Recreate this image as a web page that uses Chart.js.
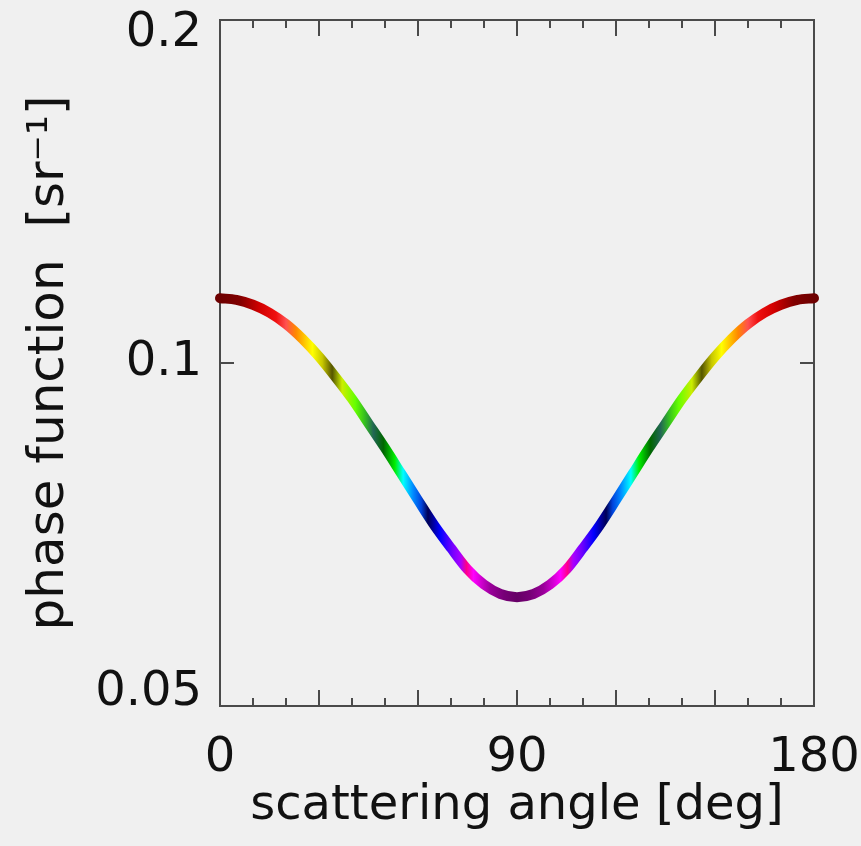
<!DOCTYPE html>
<html><head><meta charset="utf-8">
<script src="https://cdn.jsdelivr.net/npm/chart.js@4/dist/chart.umd.min.js"></script>
<style>html,body{margin:0;padding:0;background:#f0f0f0;}#wrap{width:861px;height:846px;}</style>
</head><body><div id="wrap"><canvas id="c" width="861" height="846"></canvas></div>
<script>
// Scattering angle [deg]
const angles = [0,5,10,15,20,25,30,35,40,45,50,55,60,65,70,75,80,85,90,95,100,105,110,115,120,125,130,135,140,145,150,155,160,165,170,175,180];
// Phase function [sr^-1]
const phase = [0.1140,0.1136,0.1125,0.1107,0.1082,0.1050,0.1013,0.0972,0.0930,0.0885,0.0842,0.0799,0.0758,0.0720,0.0688,0.0659,0.0639,0.0627,0.0623,
               0.0627,0.0639,0.0659,0.0688,0.0720,0.0758,0.0799,0.0842,0.0885,0.0930,0.0972,0.1013,0.1050,0.1082,0.1107,0.1125,0.1136,0.1140];
const xTickValues = [0, 90, 180];
const yTickValues = [0.05, 0.1, 0.2];
const xMinorTicks = [10,20,30,40,50,60,70,80,90,100,110,120,130,140,150,160,170];
const xMajorTicks = [30,60,90,120,150];
const yMajorTicks = [0.1];
// colour stops along the curve: angle (0..90, mirrored) -> colour
const colourAngles = [0,6,12,17,20,23,28,31,34,37,41,44,46.5,49.5,53,55.5,58.6,61,63,66.7,70.6,73,74.7,76.8,82,86,90];
const colours = ['#6e0000','#800000','#d00000','#f01010','#ff5050','#ff8800','#ffff00','#c8c800','#555500','#ccee00','#66ff00','#33bb22','#226655','#006600','#00ee00','#00ffff','#0088ff','#0044dd','#000055','#0000ff','#7700ff','#aa00ff','#ff0088','#ff00ff','#990099','#770077','#660066'];

const FONT = 'DejaVu Sans';
const AXIS_COLOR = '#4a4a4a';

function gradientFor(chart){
  const xs = chart.scales && chart.scales.x;
  if(!xs || !chart.chartArea) return '#800000';
  const x0 = xs.getPixelForValue(0), x1 = xs.getPixelForValue(180);
  if(!isFinite(x0) || !isFinite(x1) || x1 === x0) return '#800000';
  const g = chart.ctx.createLinearGradient(x0,0,x1,0);
  for(let i=0;i<colourAngles.length;i++){
    g.addColorStop(colourAngles[i]/180, colours[i]);
    g.addColorStop(1-colourAngles[i]/180, colours[i]);
  }
  return g;
}

function noPad(s){ s.paddingTop = 0; s.paddingBottom = 0; s.paddingLeft = 0; s.paddingRight = 0; }

const tickPlugin = {
  id:'inwardTicks',
  afterDatasetsDraw(chart){
    const {ctx, chartArea:ca, scales} = chart;
    const xs = scales.x, ys = scales.y;
    ctx.save();
    ctx.strokeStyle = AXIS_COLOR;
    ctx.lineWidth = 2;
    ctx.beginPath();
    xMinorTicks.forEach(v=>{
      const px = Math.round(xs.getPixelForValue(v));
      const len = xMajorTicks.includes(v) ? 16 : 8;
      ctx.moveTo(px, ca.bottom); ctx.lineTo(px, ca.bottom-len);
      ctx.moveTo(px, ca.top); ctx.lineTo(px, ca.top+len);
    });
    yMajorTicks.forEach(v=>{
      const py = Math.round(ys.getPixelForValue(v));
      ctx.moveTo(ca.left, py); ctx.lineTo(ca.left+14, py);
      ctx.moveTo(ca.right, py); ctx.lineTo(ca.right-14, py);
    });
    ctx.stroke();
    ctx.restore();
  }
};

new Chart(document.getElementById('c'), {
  type:'line',
  data:{
    datasets:[{
      data: angles.map((a,i)=>({x:a, y:phase[i]})),
      borderColor: (ctx)=>gradientFor(ctx.chart),
      borderWidth: 10,
      borderCapStyle:'round',
      borderJoinStyle:'round',
      pointRadius:0,
      cubicInterpolationMode:'monotone',
      fill:false,
      clip:false
    }]
  },
  options:{
    responsive:false,
    devicePixelRatio:1,
    animation:false,
    events:[],
    layout:{padding:0},
    plugins:{legend:{display:false}, tooltip:{enabled:false}},
    scales:{
      x:{
        type:'linear', position:'bottom', min:0, max:180,
        afterBuildTicks:(s)=>{s.ticks = xTickValues.map(v=>({value:v}));},
        afterFit:(s)=>{s.height = 140; noPad(s);},
        grid:{display:false, drawTicks:false},
        border:{display:true, color:AXIS_COLOR, width:2},
        ticks:{color:'#111', padding:24, maxRotation:0, autoSkip:false, font:{family:FONT, size:48}, callback:(v)=>String(v)},
        title:{display:true, text:'scattering angle [deg]', color:'#111', font:{family:FONT, size:48}, padding:{top:0,bottom:11}}
      },
      x2:{
        type:'linear', position:'top', min:0, max:180,
        afterFit:(s)=>{s.height = 20; noPad(s);},
        grid:{display:false, drawTicks:false},
        border:{display:true, color:AXIS_COLOR, width:2},
        ticks:{display:false}
      },
      y:{
        type:'logarithmic', position:'left', min:0.05, max:0.2,
        afterBuildTicks:(s)=>{s.ticks = yTickValues.map(v=>({value:v}));},
        afterFit:(s)=>{s.width = 220; noPad(s);},
        grid:{display:false, drawTicks:false},
        border:{display:true, color:AXIS_COLOR, width:2},
        ticks:{color:'#111', padding:18, autoSkip:false, font:{family:FONT, size:48, lineHeight:0.55},
               callback:(v)=> v >= 0.2 ? ['', String(v)] : (v <= 0.05 ? [String(v), ''] : String(v))},
        title:{display:true, text:'phase function  [sr\u207B\u00B9]', color:'#111', font:{family:FONT, size:50}, padding:{top:20,bottom:0}}
      },
      y2:{
        type:'logarithmic', position:'right', min:0.05, max:0.2,
        afterFit:(s)=>{s.width = 47; noPad(s);},
        grid:{display:false, drawTicks:false},
        border:{display:true, color:AXIS_COLOR, width:2},
        ticks:{display:false}
      }
    }
  },
  plugins:[tickPlugin]
});
</script>
</body></html>
